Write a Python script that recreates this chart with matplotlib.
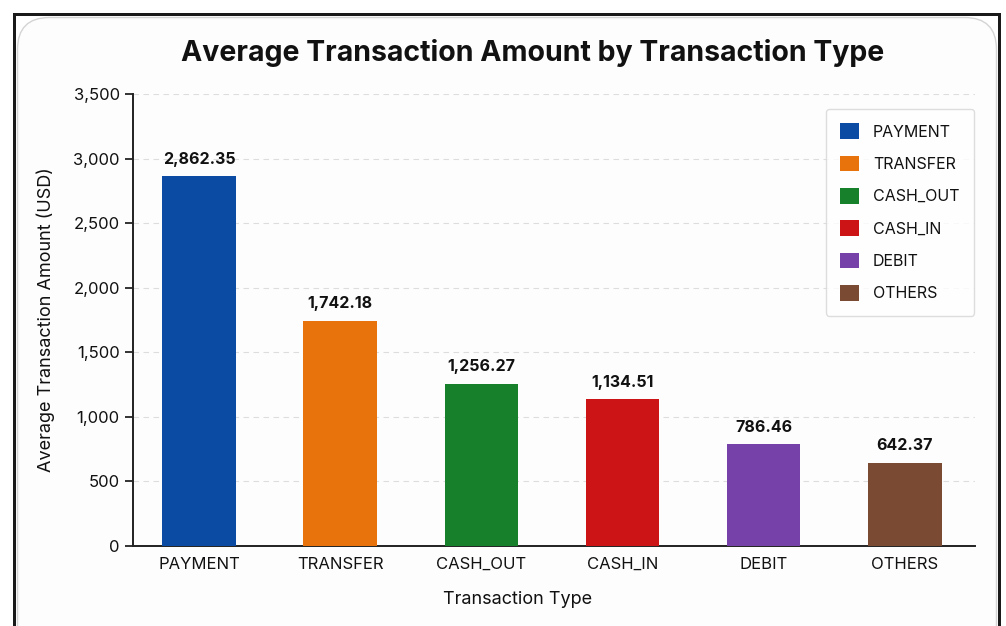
import matplotlib.pyplot as plt
from matplotlib.patches import FancyBboxPatch, Rectangle
from matplotlib.ticker import FuncFormatter

plt.rcParams['font.family'] = ['Inter', 'DejaVu Sans']

# Average amount per transaction type
types = ['PAYMENT', 'TRANSFER', 'CASH_OUT', 'CASH_IN', 'DEBIT', 'OTHERS']
avg_amount = [2862.35, 1742.18, 1256.27, 1134.51, 786.46, 642.37]
colors = ['#0B4BA3', '#E8720C', '#17802A', '#CC1417', '#7741AA', '#7B4A32']

fig = plt.figure(figsize=(10.06, 6.26), dpi=100)
fig.patch.set_facecolor('white')

# dark frame and rounded card behind the chart (units: inches)
tr = fig.dpi_scale_trans
fig.patches.append(Rectangle((0.13, -0.5), 10.01 - 0.13, 6.13 + 0.5, transform=tr,
                             facecolor='#1a1a1a', edgecolor='none', zorder=-3))
fig.patches.append(Rectangle((0.16, -0.5), 9.98 - 0.16, 6.10 + 0.5, transform=tr,
                             facecolor='white', edgecolor='none', zorder=-2))
fig.patches.append(FancyBboxPatch((0.175, -0.3), 9.965 - 0.175, 6.085 + 0.3,
                                  boxstyle='round,pad=0,rounding_size=0.32',
                                  transform=tr, facecolor='#fdfdfd',
                                  edgecolor='#d4d4d4', linewidth=1.0, zorder=-1))

ax = fig.add_axes([133 / 1006, 1 - 546 / 626, (975 - 133) / 1006, (546 - 94) / 626])
ax.set_facecolor('none')

x = range(len(types))
bars = ax.bar(x, avg_amount, width=0.52, color=colors, label=types, zorder=3)

for xi, v in zip(x, avg_amount):
    ax.text(xi, v + 75, f'{v:,.2f}', ha='center', va='bottom',
            fontsize=11.5, fontweight='bold', color='#111111')

ax.set_xlim(-0.467, 5.496)
ax.set_ylim(0, 3500)
ax.set_yticks(range(0, 3501, 500))
ax.yaxis.set_major_formatter(FuncFormatter(lambda v, p: f'{int(v):,}'))
ax.set_xticks(list(x))
ax.set_xticklabels(types)
ax.tick_params(axis='both', labelsize=12, colors='#111111', length=6, width=1.2)
ax.tick_params(axis='x', length=0, pad=8)
ax.grid(axis='y', linestyle=(0, (5, 4)), color='#dddddd', linewidth=0.8, zorder=0)

for side in ['top', 'right']:
    ax.spines[side].set_visible(False)
for side in ['left', 'bottom']:
    ax.spines[side].set_linewidth(1.4)
    ax.spines[side].set_color('#222222')

ax.set_title('Average Transaction Amount by Transaction Type', fontsize=20.5,
             fontweight='bold', color='#111111', x=(533 - 133) / 842, pad=24)
ax.set_xlabel('Transaction Type', fontsize=13, color='#111111', labelpad=14)
ax.xaxis.set_label_coords((518 - 133) / 842, -0.1)
ax.set_ylabel('Average Transaction Amount (USD)', fontsize=13, color='#111111', labelpad=13)

leg = ax.legend(loc='upper right', bbox_to_anchor=(0.9988, 0.967), borderaxespad=0,
                fontsize=11.5, frameon=True, handlelength=1.15, handleheight=1.15,
                labelspacing=1.0, borderpad=0.9, handletextpad=0.9, fancybox=True)
leg.get_frame().set_edgecolor('#d6d6d6')
leg.get_frame().set_linewidth(1.0)
for t in leg.get_texts():
    t.set_color('#111111')

fig.savefig('out.png', dpi=100)
